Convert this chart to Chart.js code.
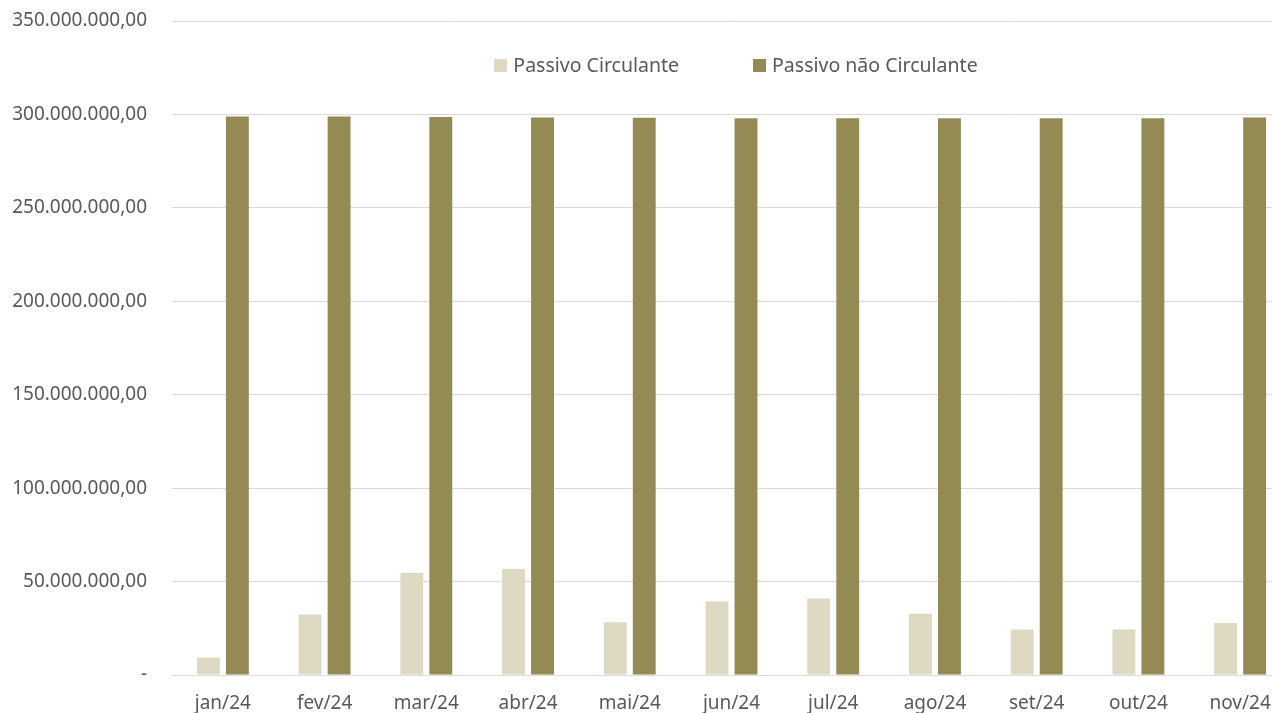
<!DOCTYPE html>
<html>
<head>
<meta charset="utf-8">
<script src="https://cdn.jsdelivr.net/npm/chart.js@4.4.1/dist/chart.umd.min.js"></script>
<style>
    html, body {margin: 0; padding: 0; background: #ffffff; overflow: hidden;}
    #wrap {position: relative; width: 1292px; height: 713px; overflow: hidden;}
    #legend {position: absolute; top: 52px; left: 0; width: 1472px; display: flex; justify-content: center;
             font-family: "Noto Sans", sans-serif; font-size: 19.5px; color: #595959;}
    .item {display: flex; align-items: center; margin: 0 37px; line-height: 26px;}
    .box {width: 13px; height: 13px; margin-right: 6px;}
</style>
</head>
<body>
<div id="wrap">
    <canvas id="bar-chart-area" width="1292" height="713"></canvas>
    <div id="legend"></div>
</div>
<script>
var arrLabel = ["jan/24", "fev/24", "mar/24", "abr/24", "mai/24", "jun/24", "jul/24", "ago/24", "set/24", "out/24", "nov/24"];
var arrCirculante = [9300000, 32400000, 54700000, 56700000, 28200000, 39400000, 40900000, 32800000, 24400000, 24400000, 27800000];
var arrNaoCirculante = [298900000, 298900000, 298600000, 298400000, 298200000, 298000000, 298000000, 298000000, 298000000, 297900000, 298400000];
var arrSeries = ["Passivo Circulante", "Passivo não Circulante"];
var arrColor = ["#DDD9C3", "#948A54"];

function formatBR(value) {
    if (value === 0) {
        return "-";
    }
    var parts = Math.round(value).toString();
    var out = "";
    while (parts.length > 3) {
        out = "." + parts.slice(-3) + out;
        parts = parts.slice(0, -3);
    }
    return parts + out + ",00";
}

function renderBar() {
    var configBar = {
        type: 'bar',
        data: {
            labels: arrLabel,
            datasets: [{
                    label: arrSeries[0],
                    data: arrCirculante,
                    backgroundColor: arrColor[0]
                }, {
                    label: arrSeries[1],
                    data: arrNaoCirculante,
                    backgroundColor: arrColor[1]
                }]
        },
        options: {
            responsive: false,
            animation: false,
            layout: {
                padding: {top: 21, right: 1, left: 0, bottom: 0}
            },
            datasets: {
                bar: {categoryPercentage: 0.57, barPercentage: 0.79}
            },
            plugins: {
                legend: {display: false},
                tooltip: {enabled: false}
            },
            scales: {
                x: {
                    grid: {display: false, drawTicks: false},
                    border: {display: true, color: '#d9d9d9', width: 1},
                    afterFit: function (scale) {
                        scale.height = 38;
                        scale.paddingLeft = 0;
                        scale.paddingRight = 0;
                    },
                    ticks: {
                        color: '#595959',
                        padding: 19,
                        font: {family: 'Noto Sans', size: 19, lineHeight: 1}
                    }
                },
                y: {
                    min: 0,
                    max: 350000000,
                    grid: {color: '#d9d9d9', drawTicks: false},
                    border: {display: false},
                    afterFit: function (scale) {
                        scale.width = 172;
                        scale.paddingTop = 0;
                        scale.paddingBottom = 0;
                    },
                    ticks: {
                        stepSize: 50000000,
                        color: '#595959',
                        padding: 25,
                        font: {family: 'Noto Sans', size: 19},
                        callback: function (value) {
                            return formatBR(value);
                        }
                    }
                }
            }
        }
    };
    var ctx = document.getElementById("bar-chart-area").getContext("2d");
    var myBar = new Chart(ctx, configBar);
}

function renderLegend() {
    var html = "";
    for (var i in arrSeries) {
        html += '<div class="item"><span class="box" style="background:' + arrColor[i] + '"></span>' + arrSeries[i] + '</div>';
    }
    document.getElementById("legend").innerHTML = html;
}

renderBar();
renderLegend();
</script>
</body>
</html>
